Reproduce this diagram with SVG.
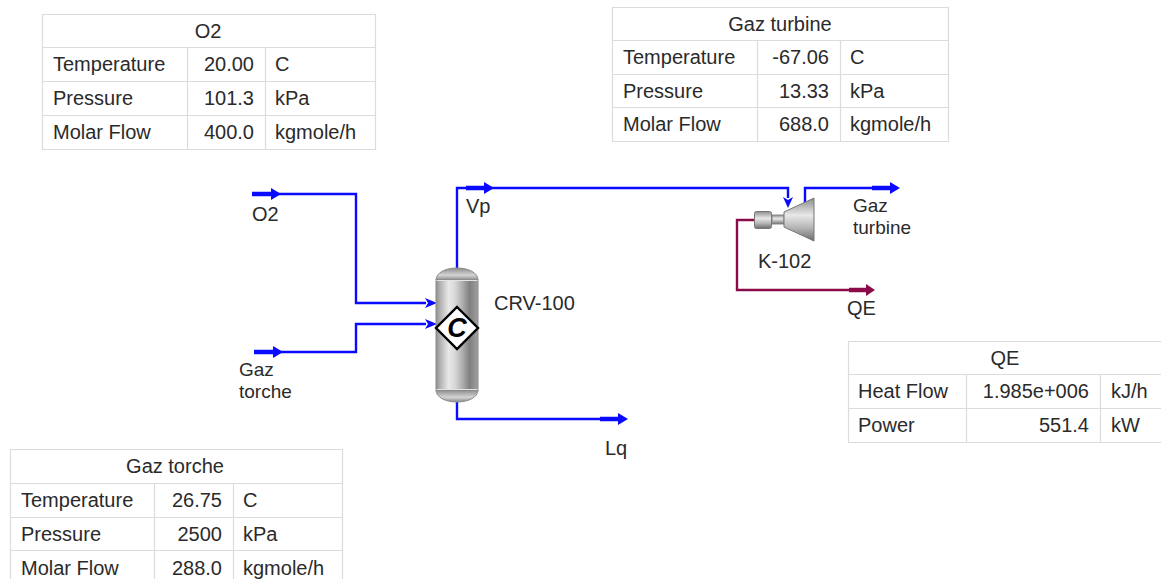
<svg xmlns="http://www.w3.org/2000/svg" width="1161" height="579" viewBox="0 0 1161 579">
<style>
text{font-family:"Liberation Sans",Arial,sans-serif;font-size:20px;fill:#2a2a2a}
text.w{font-size:19px}
.e{text-anchor:end}.m{text-anchor:middle}
.g{fill:none;stroke:#dcdcdc;stroke-width:1.2}
.b{fill:none;stroke:#0a0aff;stroke-width:2.4}
.bt{fill:none;stroke:#0a0aff;stroke-width:4.5}
.r{fill:none;stroke:#8a0a4a;stroke-width:2.4}
.rt{fill:none;stroke:#8a0a4a;stroke-width:4.5}
.hb{fill:#0a0aff}.hr{fill:#8a0a4a}
</style>
<defs>
<linearGradient id="body" x1="0" x2="1" y1="0" y2="0">
<stop offset="0" stop-color="#909090"/><stop offset=".12" stop-color="#b8b8b8"/><stop offset=".3" stop-color="#e8e8e8"/><stop offset=".45" stop-color="#d8d8d8"/><stop offset=".62" stop-color="#b0b0b0"/><stop offset=".8" stop-color="#808080"/><stop offset="1" stop-color="#a0a0a0"/>
</linearGradient>
<linearGradient id="cap" x1="0" x2="0" y1="0" y2="1">
<stop offset="0" stop-color="#8a8a8a"/><stop offset=".6" stop-color="#d4d4d4"/><stop offset="1" stop-color="#8a8a8a"/>
</linearGradient>
<linearGradient id="cone" x1="0" x2="0" y1="0" y2="1">
<stop offset="0" stop-color="#8c8c8c"/><stop offset=".4" stop-color="#e8e8e8"/><stop offset=".7" stop-color="#b4b4b4"/><stop offset="1" stop-color="#6c6c6c"/>
</linearGradient>
</defs>
<g id="table-o2">
<path class="g" d="M42.500 14.500H375.500V149.500H42.500ZM42.500 47.500H375.500M42.500 81.500H375.500M42.500 115.500H375.500M187.500 47.500V149.500M265.500 47.500V149.500"/>
<text class="m" x="208" y="38">O2</text>
<text x="53" y="71">Temperature</text><text class="e" x="254" y="71">20.00</text><text x="275" y="71">C</text>
<text x="53" y="105">Pressure</text><text class="e" x="254" y="105">101.3</text><text x="275" y="105">kPa</text>
<text x="53" y="139">Molar Flow</text><text class="e" x="254" y="139">400.0</text><text x="275" y="139">kgmole/h</text>
</g>
<g id="table-gaz-turbine">
<path class="g" d="M612.500 7.500H948.500V141.500H612.500ZM612.500 40.500H948.500M612.500 74.500H948.500M612.500 107.500H948.500M757.500 40.500V141.500M840.500 40.500V141.500"/>
<text class="m" x="780" y="31">Gaz turbine</text>
<text x="623" y="64">Temperature</text><text class="e" x="829" y="64">-67.06</text><text x="850" y="64">C</text>
<text x="623" y="98">Pressure</text><text class="e" x="829" y="98">13.33</text><text x="850" y="98">kPa</text>
<text x="623" y="131">Molar Flow</text><text class="e" x="829" y="131">688.0</text><text x="850" y="131">kgmole/h</text>
</g>
<g id="table-qe">
<path class="g" d="M1161 341.500H848.500V442.500H1161M848.500 374.500H1161M848.500 408.500H1161M966.500 374.500V442.500M1100.500 374.500V442.500"/>
<text class="m" x="1005" y="365">QE</text>
<text x="858" y="398">Heat Flow</text><text class="e" x="1089" y="398">1.985e+006</text><text x="1111" y="398">kJ/h</text>
<text x="858" y="432">Power</text><text class="e" x="1089" y="432">551.4</text><text x="1111" y="432">kW</text>
</g>
<g id="table-gaz-torche">
<path class="g" d="M10.500 579V449.500H342.500V579M10.500 483.500H342.500M10.500 517.500H342.500M10.500 550.500H342.500M154.500 483.500V579M233.500 483.500V579"/>
<text class="m" x="175" y="473">Gaz torche</text>
<text x="21" y="507">Temperature</text><text class="e" x="222" y="507">26.75</text><text x="243" y="507">C</text>
<text x="21" y="541">Pressure</text><text class="e" x="222" y="541">2500</text><text x="243" y="541">kPa</text>
<text x="21" y="575">Molar Flow</text><text class="e" x="222" y="575">288.0</text><text x="243" y="575">kgmole/h</text>
</g>
<g id="connectors">
<path class="b" d="M270 194H356V303H426"/>
<path class="bt" d="M252 194H272"/><path class="hb" d="M271 188L281 194L271 200Z"/>
<path class="hb" d="M425 298L437 303L425 308L428 303Z"/>
<path class="b" d="M270 352H356V324H426"/>
<path class="bt" d="M254 352H274"/><path class="hb" d="M273 346L283 352L273 358Z"/>
<path class="hb" d="M425 319L437 324L425 329L428 324Z"/>
<path class="b" d="M457 268V188H788V198"/>
<path class="bt" d="M466 188H485"/><path class="hb" d="M484 182L494 188L484 194Z"/>
<path class="hb" d="M783 197L788 208L793 197L788 200Z"/>
<path class="b" d="M805 204V188H875"/>
<path class="bt" d="M872 188H891"/><path class="hb" d="M890 182L900 188L890 194Z"/>
<path class="r" d="M755 220H737V290H855"/>
<path class="rt" d="M849 290H867"/><path class="hr" d="M866 284L875 290L866 296Z"/>
<path class="b" d="M457 402V419H605"/>
<path class="bt" d="M600 419H619"/><path class="hb" d="M618 413L628 419L618 425Z"/>
</g>
<g id="stream-labels">
<text x="252" y="221">O2</text>
<text class="w" x="239" y="376">Gaz</text><text class="w" x="239" y="398">torche</text>
<text x="466" y="213">Vp</text>
<text class="w" x="853" y="212">Gaz</text><text class="w" x="853" y="234">turbine</text>
<text x="847" y="315">QE</text>
<text x="605" y="455">Lq</text>
</g>
<g id="crv-100">
<path d="M436 280C436 273 445 268 457 268C469 268 478 273 478 280Z" fill="url(#cap)" stroke="#8a8a8a"/>
<path d="M436 390C436 397 445 402 457 402C469 402 478 397 478 390Z" fill="url(#cap)" stroke="#8a8a8a"/>
<rect x="436" y="280" width="42" height="110" fill="url(#body)" stroke="#8a8a8a"/>
<path d="M436.500 280.500H477.500M436.500 389.500H477.500" stroke="#e4e4e4" fill="none"/>
<path d="M457 307L478 328L457 349L436 328Z" fill="#fff" stroke="#000" stroke-width="2.400"/>
<text class="m" x="457" y="337" style="font-size:27px;font-weight:bold;font-style:italic;fill:#000">C</text>
<text x="494" y="310">CRV-100</text>
</g>
<g id="k-102">
<rect x="772" y="215" width="12" height="9" fill="url(#cone)" stroke="#8a8a8a"/>
<rect x="754.500" y="211.500" width="17" height="17" rx="2" fill="url(#cone)" stroke="#777"/>
<path d="M784 212L814 198V241L784 227Z" fill="url(#cone)" stroke="#777"/>
<text x="758" y="268">K-102</text>
</g>
</svg>
